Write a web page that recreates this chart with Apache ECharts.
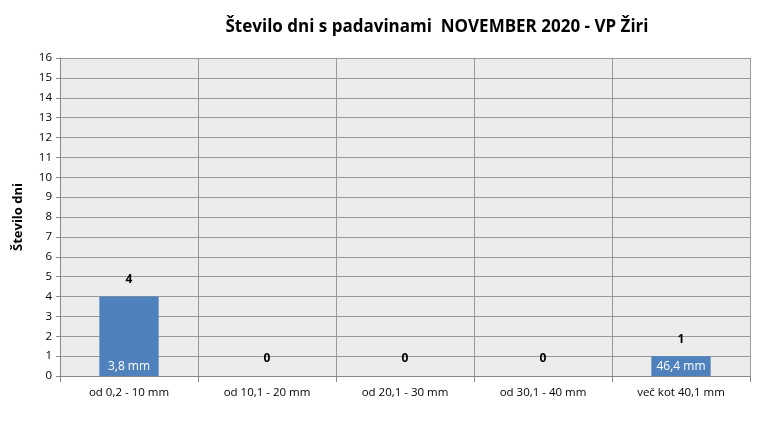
<!DOCTYPE html>
<html>
<head>
<meta charset="utf-8">
<script src="https://cdn.jsdelivr.net/npm/echarts@6/dist/echarts.min.js"></script>
<style>html,body{margin:0;padding:0;background:#fff;}#chart{width:770px;height:439px;}</style>
</head>
<body>
<div id="chart"></div>
<script>
let categories = ['od 0,2 - 10 mm', 'od 10,1 - 20 mm', 'od 20,1 - 30 mm', 'od 30,1 - 40 mm', 'več kot 40,1 mm'];
let dayCounts = [4, 0, 0, 0, 1];
let rainTotals = [3.8, 0, 0, 0, 46.4];
let yTicks = { min: 0, max: 16, interval: 1 };

let chart = echarts.init(document.getElementById('chart'));
let font = 'Open Sans, DejaVu Sans, sans-serif';
let option = {
    animation: false,
    title: {
        text: 'Število dni s padavinami  NOVEMBER 2020 - VP Žiri',
        left: 432, top: 14, textAlign: 'center',
        textStyle: { fontFamily: font, fontSize: 17, fontWeight: 'bold', color: '#000' }
    },
    grid: { left: 60, right: 20, top: 58, bottom: 63, backgroundColor: '#ececec', show: true, borderWidth: 0 },
    xAxis: {
        type: 'category',
        data: categories,
        axisLine: { lineStyle: { color: '#888', width: 1 } },
        axisTick: { show: true, length: 6, lineStyle: { color: '#888' } },
        splitLine: { show: true, lineStyle: { color: '#999', width: 1 } },
        axisLabel: { fontFamily: font, fontSize: 11.5, color: '#000', margin: 11 }
    },
    yAxis: {
        type: 'value',
        min: yTicks.min, max: yTicks.max, interval: yTicks.interval,
        name: 'Število dni',
        nameLocation: 'middle', nameGap: 35, nameRotate: 90,
        nameTextStyle: { fontFamily: font, fontSize: 13, fontWeight: 'bold', color: '#000' },
        axisLine: { show: true, lineStyle: { color: '#888' } },
        axisTick: { show: true, length: 4, lineStyle: { color: '#888' } },
        splitLine: { lineStyle: { color: '#999', width: 1 } },
        axisLabel: { fontFamily: font, fontSize: 11.5, color: '#000', margin: 8 }
    },
    series: [
        {
            type: 'bar',
            data: dayCounts,
            barWidth: '43%',
            itemStyle: { color: '#4f81bd' },
            label: {
                show: true, position: 'top', distance: 11,
                fontFamily: font, fontSize: 12, fontWeight: 'bold', color: '#000'
            }
        },
        {
            type: 'bar',
            data: dayCounts,
            barWidth: '43%',
            barGap: '-100%',
            itemStyle: { color: 'rgba(0,0,0,0)' },
            label: {
                show: true, position: 'insideBottom', distance: 3,
                fontFamily: font, fontSize: 12, color: '#fff',
                formatter: function (p) {
                    let v = rainTotals[p.dataIndex];
                    return v > 0 ? String(v).replace('.', ',') + ' mm' : '';
                }
            }
        }
    ]
};
chart.setOption(option);
</script>
</body>
</html>
